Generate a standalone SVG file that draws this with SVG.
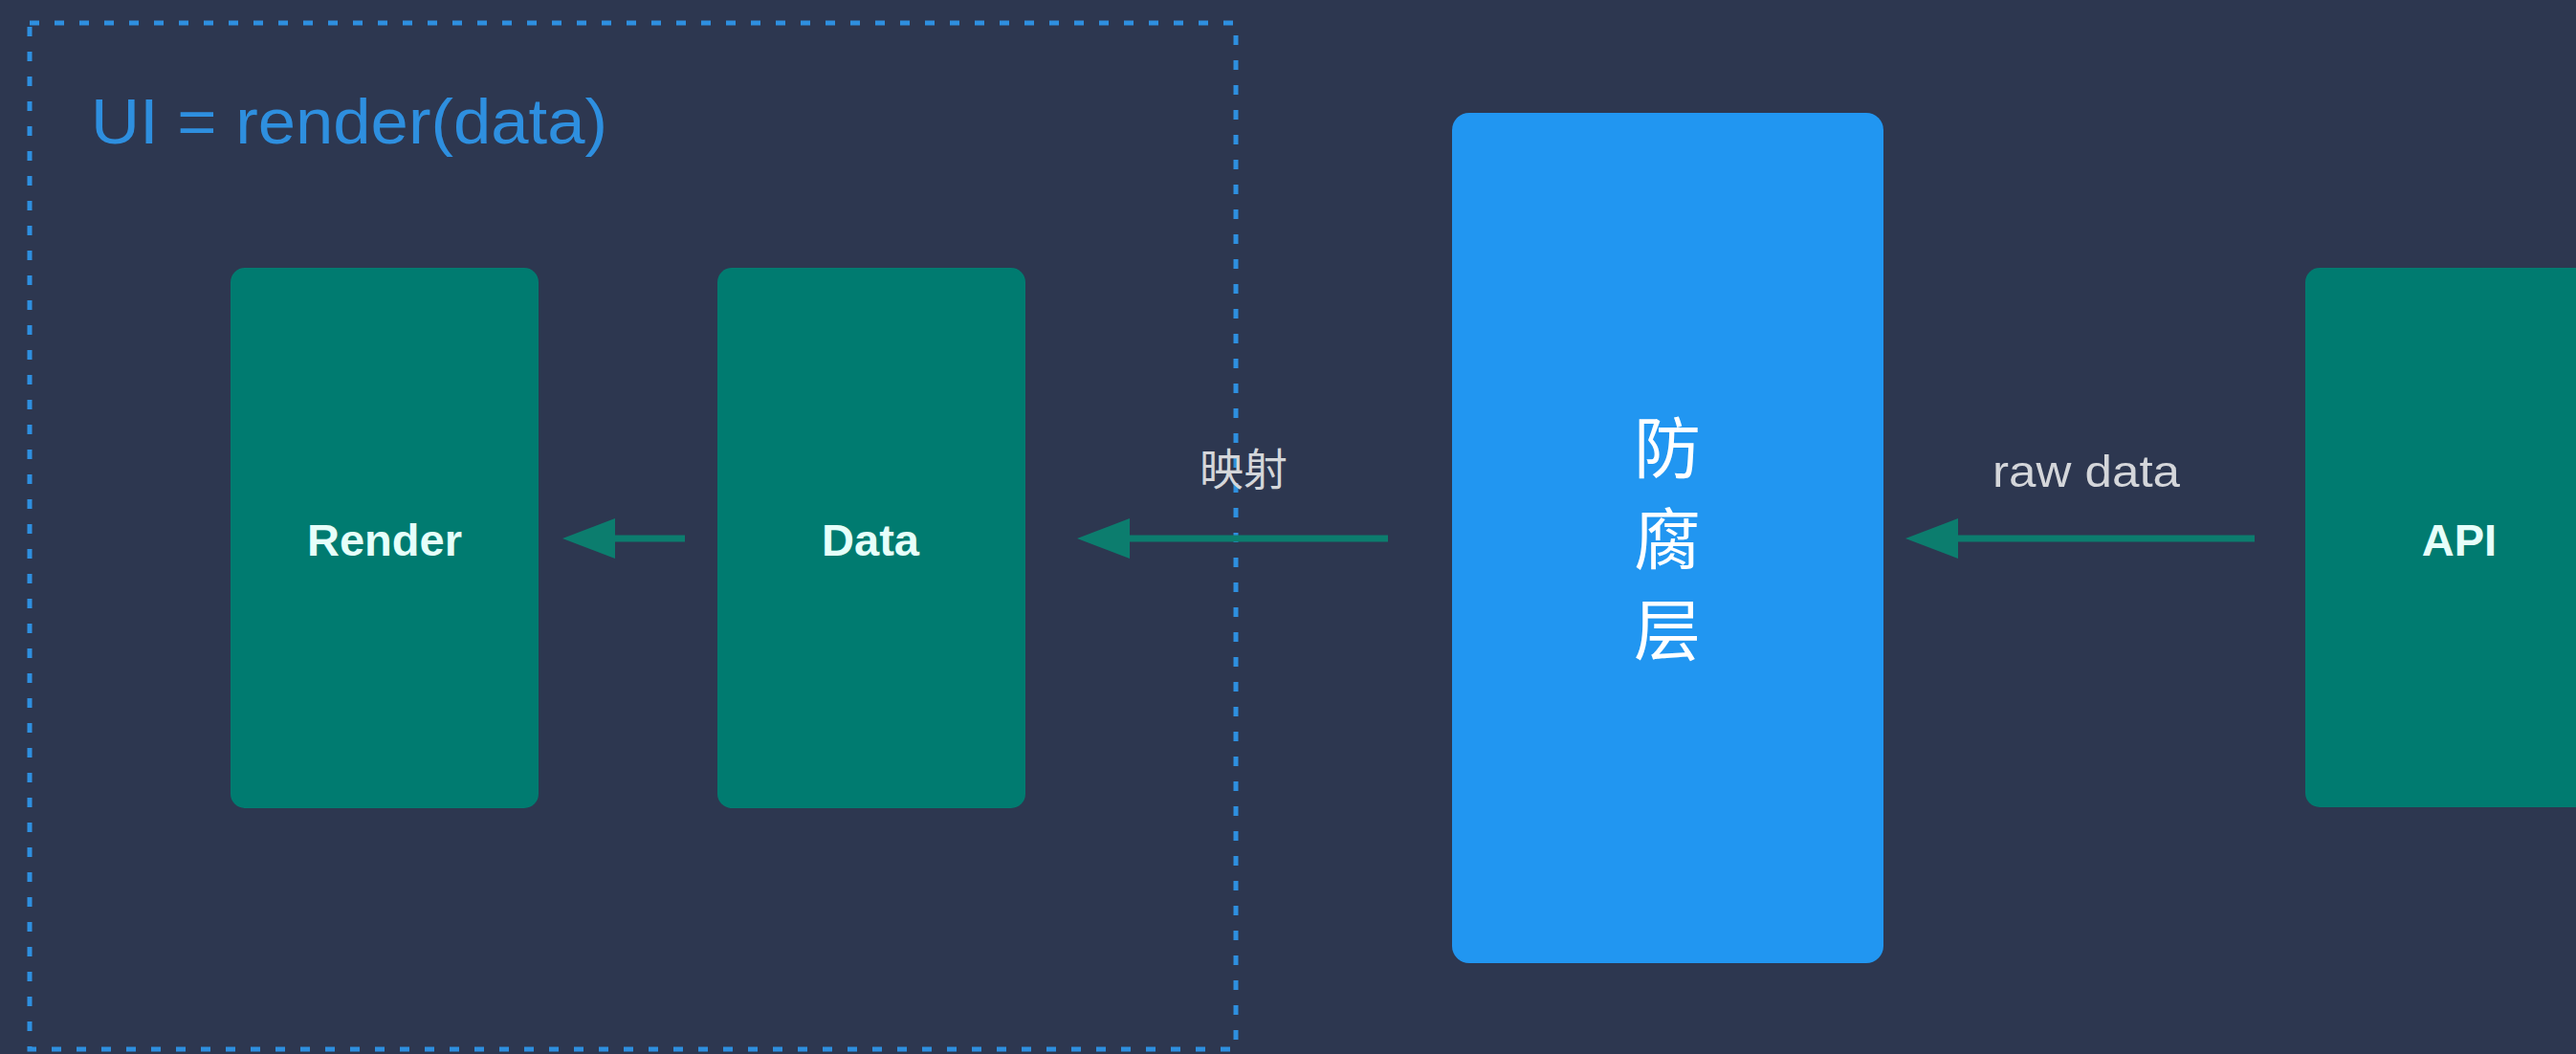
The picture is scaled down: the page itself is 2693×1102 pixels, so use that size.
<svg xmlns="http://www.w3.org/2000/svg" width="2693" height="1102" viewBox="0 0 2693 1102">
  <defs>
    <style>
      .bg { fill: #2d3750; }
      .box-green { fill: #007b70; }
      .box-blue { fill: #2196f1; }
      .node-label { font-family: "Liberation Sans", Arial, sans-serif; font-weight: bold; font-size: 47px; fill: #e6fffa; text-anchor: middle; }
      .edge-label { font-family: "Liberation Sans", "Noto Sans CJK SC", sans-serif; font-size: 46px; fill: #d4d6da; text-anchor: middle; }
      .cjk-label { font-family: "Noto Sans CJK SC", sans-serif; font-size: 70px; fill: #ffffff; text-anchor: middle; writing-mode: vertical-rl; letter-spacing: 25px; }
      .title { font-family: "Liberation Sans", Arial, sans-serif; font-size: 67px; fill: #2e8fdf; }
      .frame { fill: none; stroke: #2e8fdf; stroke-width: 5; stroke-dasharray: 10 16; }
      .edge { stroke: #0c7d6e; stroke-width: 7; fill: none; marker-end: url(#arrow); }
    </style>
    <marker id="arrow" markerUnits="userSpaceOnUse" markerWidth="56" markerHeight="44" viewBox="0 -22 56 44" refX="0" refY="0" orient="auto">
      <path d="M0,-21 L55,0 L0,21 Z" fill="#0c7d6e"/>
    </marker>
  </defs>

  <rect class="bg" x="0" y="0" width="2693" height="1102"/>

  <!-- dashed frame around the UI layer, with its heading -->
  <g id="ui-frame">
    <rect class="frame" x="31" y="24" width="1261" height="1073"/>
    <text class="title" x="95" y="150" textLength="540" lengthAdjust="spacingAndGlyphs">UI = render(data)</text>
  </g>

  <!-- connectors -->
  <g id="connectors">
    <line class="edge" x1="716" y1="563" x2="643" y2="563"/>
    <line class="edge" x1="1451" y1="563" x2="1181" y2="563"/>
    <line class="edge" x1="2357" y1="563" x2="2047" y2="563"/>
    <text class="edge-label" x="1300" y="507">映射</text>
    <text class="edge-label" x="2181" y="509" textLength="196" lengthAdjust="spacingAndGlyphs">raw data</text>
  </g>

  <g id="node-render">
    <rect class="box-green" x="241" y="280" width="322" height="565" rx="15"/>
    <text class="node-label" x="402" y="581">Render</text>
  </g>

  <g id="node-data">
    <rect class="box-green" x="750" y="280" width="322" height="565" rx="15"/>
    <text class="node-label" x="910" y="581">Data</text>
  </g>

  <g id="node-acl">
    <rect class="box-blue" x="1518" y="118" width="451" height="889" rx="18"/>
    <text class="cjk-label" x="1743" y="576">防腐层</text>
  </g>

  <g id="node-api">
    <rect class="box-green" x="2410" y="280" width="320" height="564" rx="15"/>
    <text class="node-label" x="2571" y="581">API</text>
  </g>
</svg>
